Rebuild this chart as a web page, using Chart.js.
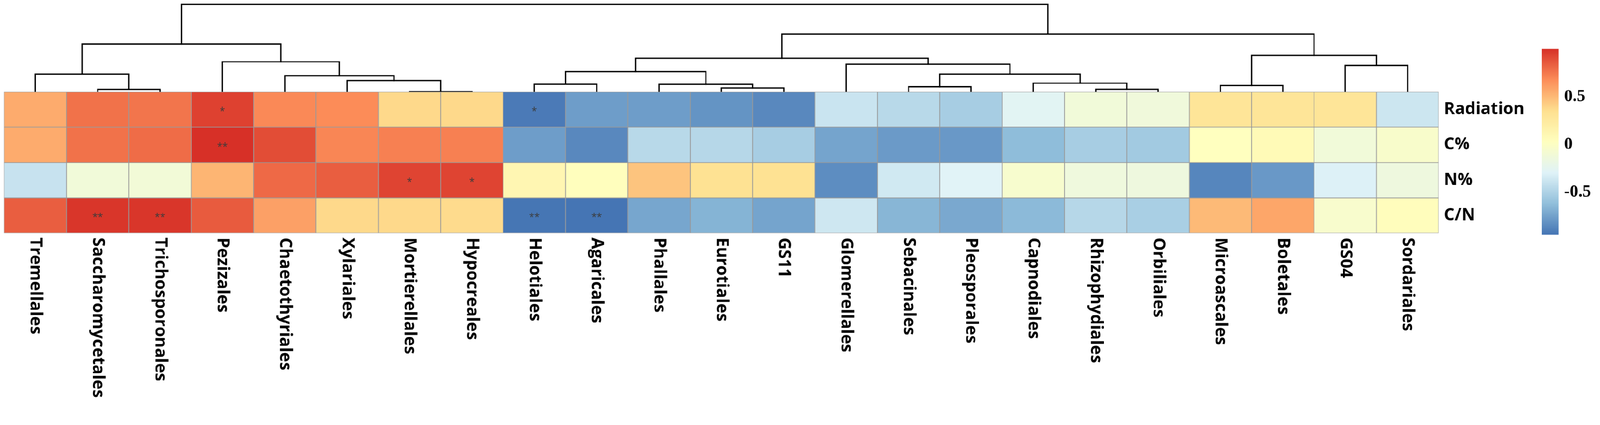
<!DOCTYPE html>
<html>
<head>
<meta charset="utf-8">
<script src="https://cdn.jsdelivr.net/npm/chart.js@4.4.1/dist/chart.umd.min.js"></script>
<style>
  html, body { margin: 0; padding: 0; background: #ffffff; overflow: hidden; }
  #wrap { position: absolute; left: 0; top: 0; width: 4317px; height: 1087px; overflow: hidden;
          background: #ffffff; transform-origin: 0 0; }
  #main { position: absolute; left: 0; top: 0; }
  #cbar { position: absolute; left: 4160px; top: 100px; }
</style>
</head>
<body>
<div id="wrap">
  <canvas id="main" width="4317" height="1087"></canvas>
  <canvas id="cbar" width="157" height="560"></canvas>
</div>
<script>
// ---------------- DATA ----------------
const orders = ['Tremellales','Saccharomycetales','Trichosporonales','Pezizales','Chaetothyriales',
  'Xylariales','Mortierellales','Hypocreales','Helotiales','Agaricales','Phallales','Eurotiales','GS11',
  'Glomerellales','Sebacinales','Pleosporales','Capnodiales','Rhizophydiales','Orbiliales',
  'Microascales','Boletales','GS04','Sordariales'];

const rowNames = ['Radiation', 'C%', 'N%', 'C/N'];

const radiation = [0.56, 0.77, 0.76, 0.94, 0.69, 0.68, 0.38, 0.38, -0.92, -0.77, -0.77, -0.81, -0.86,
  -0.39, -0.46, -0.53, -0.27, -0.12, -0.13, 0.30, 0.30, 0.30, -0.38];
const carbon = [0.56, 0.77, 0.79, 1.00, 0.90, 0.70, 0.72, 0.72, -0.77, -0.86, -0.46, -0.47, -0.53,
  -0.74, -0.78, -0.79, -0.63, -0.53, -0.55, 0.03, 0.08, -0.12, -0.04];
const nitrogen = [-0.40, -0.12, -0.11, 0.52, 0.80, 0.84, 0.93, 0.93, 0.12, 0.04, 0.46, 0.33, 0.33,
  -0.84, -0.36, -0.29, -0.06, -0.14, -0.15, -0.87, -0.79, -0.31, -0.15];
const cnRatio = [0.84, 0.98, 0.98, 0.85, 0.60, 0.38, 0.38, 0.37, -0.94, -0.944, -0.73, -0.67, -0.74,
  -0.37, -0.66, -0.72, -0.64, -0.47, -0.52, 0.50, 0.58, -0.05, 0.05];

const sigRadiation = ['','','','*','','','','','*','','','','','','','','','','','','','',''];
const sigCarbon    = ['','','','**','','','','','','','','','','','','','','','','','','',''];
const sigNitrogen  = ['','','','','','','*','*','','','','','','','','','','','','','','',''];
const sigCN        = ['','**','**','','','','','','**','**','','','','','','','','','','','','',''];

// column dendrogram (hclust-style merges: negative = leaf number, positive = earlier merge row)
const mergeLeft   = [-7, -2, -18, -12, -15, -20, -9, -11, -17, -6, -5, -1, 5, 7, -22, -14, -4, 14, 6, 12, 18, 20];
const mergeRight  = [-8, -3, -19, -13, -16, -21, -10, 4, 3, 1, 10, 2, 9, 8, -23, 13, 11, 16, 15, 17, 19, 21];
const mergeHeight = [0.0, 0.074, 0.077, 0.113, 0.147, 0.182, 0.218, 0.215, 0.249, 0.323, 0.46, 0.505,
  0.505, 0.576, 0.751, 0.786, 0.856, 0.955, 1.032, 1.358, 1.637, 2.479];

// colour scale
const colorMin = -0.944;
const colorMax = 1.0;
const colorTicks = [-0.5, 0, 0.5];
const palette = ['#4575B4', '#91BFDB', '#E0F3F8', '#FFFFBF', '#FEE090', '#FC8D59', '#D73027'];

// ---------------- PAGE FIT ----------------
const PAGE_W = 4317, PAGE_H = 1087;
const fitScale = Math.min((window.innerWidth || PAGE_W) / PAGE_W, (window.innerHeight || PAGE_H) / PAGE_H);
document.getElementById('wrap').style.transform = `scale(${fitScale})`;
const pixelRatio = (window.devicePixelRatio || 1) * fitScale;

// ---------------- HELPERS ----------------
function hexToRgb(h) {
  const n = parseInt(h.slice(1), 16);
  return [(n >> 16) & 255, (n >> 8) & 255, n & 255];
}
const palRgb = palette.map(hexToRgb);
function colorFor(v) {
  let t = (v - colorMin) / (colorMax - colorMin);
  t = Math.max(0, Math.min(1, t));
  const p = t * (palRgb.length - 1);
  const i = Math.min(Math.floor(p), palRgb.length - 2);
  const f = p - i;
  const a = palRgb[i], b = palRgb[i + 1];
  const c = a.map((x, k) => Math.round(x + (b[k] - x) * f));
  return `rgb(${c[0]},${c[1]},${c[2]})`;
}

const rows = [radiation, carbon, nitrogen, cnRatio];
const sigRows = [sigRadiation, sigCarbon, sigNitrogen, sigCN];

const heatDatasets = rows.map((vals, r) => ({
  type: 'bar',
  label: rowNames[r],
  data: vals.map((v, i) => ({ x: i + 0.5, y: [-(r + 1), -r] })),
  backgroundColor: vals.map(colorFor),
  borderColor: '#999999',
  borderWidth: 1.4,
  borderSkipped: false,
  grouped: false,
  barPercentage: 1,
  categoryPercentage: 1,
  order: 0
}));

// dendrogram segments
const nodeX = [], nodeH = [];
function childPos(c) {
  if (c < 0) return { x: -c - 0.5, h: 0 };
  return { x: nodeX[c - 1], h: nodeH[c - 1] };
}
const dendroDatasets = mergeHeight.map((h, k) => {
  const a = childPos(mergeLeft[k]);
  const b = childPos(mergeRight[k]);
  nodeX[k] = (a.x + b.x) / 2;
  nodeH[k] = h;
  return {
    type: 'line',
    isDendro: true,
    data: [{ x: a.x, y: a.h }, { x: a.x, y: h }, { x: b.x, y: h }, { x: b.x, y: b.h }],
    borderColor: '#000000',
    borderWidth: 3.5,
    pointRadius: 0,
    tension: 0,
    fill: false,
    borderCapStyle: 'square',
    borderJoinStyle: 'miter',
    order: 1
  };
});

// ---------------- PLUGINS ----------------
const dendroClip = {
  id: 'dendroClip',
  beforeDatasetDraw(chart, args) {
    const ds = chart.data.datasets[args.index];
    if (!ds.isDendro) return;
    const { ctx, chartArea, scales } = chart;
    const yTop = scales.y.getPixelForValue(0);
    ctx.save();
    ctx.beginPath();
    ctx.rect(chartArea.left - 5, 0, chartArea.right - chartArea.left + 10, yTop);
    ctx.clip();
  },
  afterDatasetDraw(chart, args) {
    const ds = chart.data.datasets[args.index];
    if (!ds.isDendro) return;
    chart.ctx.restore();
  }
};

const labelsPlugin = {
  id: 'colLabelsAndStars',
  afterDatasetsDraw(chart) {
    const { ctx, scales } = chart;
    const xs = scales.x, ys = scales.y;
    ctx.save();
    ctx.fillStyle = '#3c3c3c';
    ctx.font = '26px "Open Sans"';
    ctx.textAlign = 'center';
    ctx.textBaseline = 'alphabetic';
    sigRows.forEach((sr, r) => {
      sr.forEach((s, i) => {
        if (!s) return;
        const m = ctx.measureText(s);
        const cx = xs.getPixelForValue(i + 0.5);
        const cy = ys.getPixelForValue(-r - 0.5);
        const off = (m.actualBoundingBoxAscent - m.actualBoundingBoxDescent) / 2;
        ctx.fillText(s, cx, cy + off);
      });
    });
    ctx.restore();
  },
  afterDraw(chart) {
    const { ctx, scales, chartArea } = chart;
    const xs = scales.x;
    ctx.save();
    ctx.fillStyle = '#000000';
    ctx.font = 'bold 45px "Open Sans"';
    ctx.textAlign = 'left';
    ctx.textBaseline = 'middle';
    orders.forEach((name, i) => {
      const x = xs.getPixelForValue(i + 0.5);
      ctx.save();
      ctx.translate(x, chartArea.bottom + 12);
      ctx.rotate(Math.PI / 2);
      ctx.fillText(name, 0, 0);
      ctx.restore();
    });
    ctx.restore();
  }
};

const rowCenters = rowNames.map((_, r) => -r - 0.5);

new Chart(document.getElementById('main'), {
  type: 'bar',
  data: { datasets: [...heatDatasets, ...dendroDatasets] },
  options: {
    responsive: false,
    devicePixelRatio: pixelRatio,
    animation: false,
    layout: { padding: { left: 11, right: 0, top: 10, bottom: 459 } },
    plugins: { legend: { display: false }, tooltip: { enabled: false } },
    scales: {
      x: {
        type: 'linear', min: 0, max: orders.length, offset: false, display: false,
        grid: { display: false }
      },
      y: {
        type: 'linear', min: -rowNames.length, max: 2.5, position: 'right',
        grid: { display: false, drawTicks: false },
        border: { display: false },
        afterBuildTicks(scale) { scale.ticks = rowCenters.map(v => ({ value: v })); },
        afterFit(scale) { scale.width = 435; scale.paddingTop = 0; scale.paddingBottom = 0; },
        ticks: {
          color: '#000000',
          padding: 14,
          font: { family: '"Open Sans"', weight: 'bold', size: 45 },
          callback: (v) => rowNames[Math.round(-v - 0.5)]
        }
      }
    }
  },
  plugins: [dendroClip, labelsPlugin]
});

// ---------------- COLOUR BAR ----------------
new Chart(document.getElementById('cbar'), {
  type: 'bar',
  data: {
    labels: ['scale'],
    datasets: [{
      data: [[colorMin, colorMax]],
      barPercentage: 1,
      categoryPercentage: 1,
      borderWidth: 0,
      backgroundColor(ctx) {
        const chart = ctx.chart;
        const ys = chart.scales.y;
        if (!chart.chartArea || !ys) return palette[3];
        const g = chart.ctx.createLinearGradient(0, ys.getPixelForValue(colorMin), 0, ys.getPixelForValue(colorMax));
        palette.forEach((c, i) => g.addColorStop(i / (palette.length - 1), c));
        return g;
      }
    }]
  },
  options: {
    responsive: false,
    devicePixelRatio: pixelRatio,
    animation: false,
    layout: { padding: { left: 0, right: 0, top: 32, bottom: 28 } },
    plugins: { legend: { display: false }, tooltip: { enabled: false } },
    scales: {
      x: { type: 'category', display: false, grid: { display: false } },
      y: {
        type: 'linear', min: colorMin, max: colorMax, position: 'right',
        grid: { display: false, drawTicks: false },
        border: { display: false },
        afterBuildTicks(scale) { scale.ticks = colorTicks.map(v => ({ value: v })); },
        afterFit(scale) { scale.width = 112; scale.paddingTop = 0; scale.paddingBottom = 0; },
        ticks: {
          color: '#000000',
          padding: 15,
          font: { family: '"Liberation Serif"', weight: 'bold', size: 46 },
          callback: (v) => String(v)
        }
      }
    }
  }
});
</script>
</body>
</html>
